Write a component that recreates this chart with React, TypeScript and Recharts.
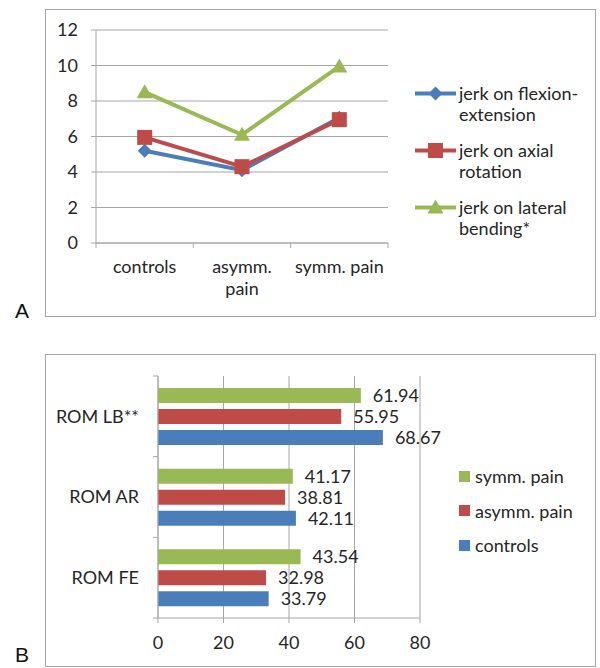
import React from 'react';
import {
  LineChart, Line, BarChart, Bar, XAxis, YAxis, CartesianGrid, Legend, LabelList,
} from 'recharts';

const FONT = 'Lato, "Open Sans", sans-serif';
const INK = '#262626';
const RULE = '#a6a6a6';
const FS = 18;

const BLUE = '#4a7ebb';
const RED = '#be4b48';
const GREEN = '#98b954';

// A: jerk per group
const groups = ['controls', 'asymm. pain', 'symm. pain'];
const groupTickLines = [['controls'], ['asymm.', 'pain'], ['symm. pain']];
const jerkFE = [5.2, 4.1, 7.05];
const jerkAR = [5.95, 4.3, 6.95];
const jerkLB = [8.5, 6.1, 9.95];
const jerkTicks = [0, 2, 4, 6, 8, 10, 12];
const jerkNames = [
  ['jerk on flexion-', 'extension'],
  ['jerk on axial', 'rotation'],
  ['jerk on lateral', 'bending*'],
];

// B: range of motion
const romLabels = ['ROM LB**', 'ROM AR', 'ROM FE'];
const romSymm = [61.94, 41.17, 43.54];
const romAsymm = [55.95, 38.81, 32.98];
const romControls = [68.67, 42.11, 33.79];
const romTicks = [0, 20, 40, 60, 80];
const romNames = ['symm. pain', 'asymm. pain', 'controls'];

const jerkData = groups.map((g, i) => ({ group: g, fe: jerkFE[i], ar: jerkAR[i], lb: jerkLB[i] }));
const romData = romLabels.map((l, i) => ({
  label: l, symm: romSymm[i], asymm: romAsymm[i], controls: romControls[i],
}));

type Shape = 'diamond' | 'square' | 'triangle';
const jerkSeries: { key: string; color: string; shape: Shape }[] = [
  { key: 'fe', color: BLUE, shape: 'diamond' },
  { key: 'ar', color: RED, shape: 'square' },
  { key: 'lb', color: GREEN, shape: 'triangle' },
];
const romSeries = [
  { key: 'symm', color: GREEN },
  { key: 'asymm', color: RED },
  { key: 'controls', color: BLUE },
];

// chart geometry
const A_W = 600, A_H = 330;
const A_PLOT = { left: 96, right: 388, top: 30, bottom: 243 };
const A_YW = 50, A_XH = 60, A_MR = 12;
const A_BAND = (A_PLOT.right - A_PLOT.left) / groups.length;

const B_W = 600, B_H = 328;
const B_PLOT = { left: 158, right: 420, top: 36, bottom: 278 };
const B_YW = 60, B_XH = 40, B_MR = 10;
const B_BAND = (B_PLOT.bottom - B_PLOT.top) / romLabels.length;

const TICK = 5;

function Marker({ shape, color, cx, cy }: { shape: Shape; color: string; cx: number; cy: number }) {
  if (shape === 'diamond') {
    return <polygon points={`${cx},${cy - 7} ${cx + 7},${cy} ${cx},${cy + 7} ${cx - 7},${cy}`} fill={color} />;
  }
  if (shape === 'square') {
    return <rect x={cx - 7.5} y={cy - 7.5} width={15} height={15} fill={color} />;
  }
  return <polygon points={`${cx},${cy - 8} ${cx + 8},${cy + 6} ${cx - 8},${cy + 6}`} fill={color} />;
}

function dotFor(shape: Shape, color: string) {
  return (p: any) => {
    if (p.cx == null || p.cy == null) return <g key={`${shape}-${p.index}`} />;
    return (
      <g key={`${shape}-${p.index}`}>
        <Marker shape={shape} color={color} cx={p.cx} cy={p.cy} />
      </g>
    );
  };
}

// category ticks sit between groups, labels at band centre
function GroupTick(props: any) {
  const { x, y, index } = props;
  const axisY = A_PLOT.bottom;
  const half = A_BAND / 2;
  const lines = groupTickLines[index] ?? [String(props.payload?.value)];
  return (
    <g>
      <line x1={x - half} x2={x - half} y1={axisY} y2={axisY + TICK} stroke={RULE} />
      {index === groups.length - 1 && (
        <line x1={x + half} x2={x + half} y1={axisY} y2={axisY + TICK} stroke={RULE} />
      )}
      <text x={x} y={y} textAnchor="middle" fill={INK} fontSize={FS} fontFamily={FONT}>
        {lines.map((l, i) => (
          <tspan key={i} x={x} dy={i === 0 ? '0.72em' : 22}>{l}</tspan>
        ))}
      </text>
    </g>
  );
}

function RomTick(props: any) {
  const { x, y, index, payload } = props;
  const axisX = B_PLOT.left;
  const half = B_BAND / 2;
  return (
    <g>
      <line x1={axisX - TICK} x2={axisX} y1={y - half} y2={y - half} stroke={RULE} />
      {index === romLabels.length - 1 && (
        <line x1={axisX - TICK} x2={axisX} y1={y + half} y2={y + half} stroke={RULE} />
      )}
      <text x={x} y={y} dy="0.36em" textAnchor="end" fill={INK} fontSize={FS} fontFamily={FONT}>
        {payload.value}
      </text>
    </g>
  );
}

function JerkLegend() {
  return (
    <div style={{ paddingLeft: 27, fontFamily: FONT, fontSize: FS, color: INK }}>
      {jerkSeries.map((s, i) => (
        <div key={s.key} style={{ display: 'flex', alignItems: 'flex-start', height: 42, marginBottom: i < 2 ? 15 : 0 }}>
          <svg width={44} height={21} style={{ flex: 'none' }}>
            <line x1={0} x2={41} y1={10.5} y2={10.5} stroke={s.color} strokeWidth={4} />
            <Marker shape={s.shape} color={s.color} cx={20.5} cy={10.5} />
          </svg>
          <div style={{ lineHeight: '21px', whiteSpace: 'nowrap' }}>
            {jerkNames[i].map((t) => <div key={t}>{t}</div>)}
          </div>
        </div>
      ))}
    </div>
  );
}

function RomLegend() {
  return (
    <div style={{ paddingLeft: 39, fontFamily: FONT, fontSize: FS, color: INK }}>
      {romSeries.map((s, i) => (
        <div key={s.key} style={{ display: 'flex', alignItems: 'center', height: 34.5 }}>
          <div style={{ width: 11, height: 11, background: s.color, marginRight: 5, flex: 'none' }} />
          <span style={{ whiteSpace: 'nowrap' }}>{romNames[i]}</span>
        </div>
      ))}
    </div>
  );
}

const panelLetter: React.CSSProperties = {
  position: 'absolute', fontFamily: '"Liberation Sans", Arial, sans-serif', fontSize: 21, color: '#111', lineHeight: 1,
};

export default function App() {
  return (
    <div style={{ position: 'absolute', left: 0, top: 0, width: 600, height: 668, background: '#fff', overflow: 'hidden' }}>
      <div style={{ position: 'absolute', left: 45, top: 9, width: 549, height: 306, border: `1px solid ${RULE}` }} />
      <div style={{ position: 'absolute', left: 45, top: 354, width: 549, height: 311, border: `1px solid ${RULE}` }} />
      <div style={{ ...panelLetter, left: 15, top: 300 }}>A</div>
      <div style={{ ...panelLetter, left: 15, top: 644 }}>B</div>

      <div style={{ position: 'absolute', left: 0, top: 0 }}>
        <LineChart
          width={A_W}
          height={A_H}
          data={jerkData}
          margin={{
            top: A_PLOT.top,
            left: A_PLOT.left - A_YW,
            right: A_MR,
            bottom: A_H - A_PLOT.bottom - A_XH,
          }}
        >
          <CartesianGrid vertical={false} stroke={RULE} />
          <XAxis
            dataKey="group"
            height={A_XH}
            interval={0}
            padding={{ left: A_BAND / 2, right: A_BAND / 2 }}
            tickLine={false}
            tickSize={TICK}
            tickMargin={12}
            axisLine={{ stroke: RULE }}
            tick={GroupTick}
          />
          <YAxis
            width={A_YW}
            domain={[0, 12]}
            ticks={jerkTicks}
            interval={0}
            tickSize={TICK}
            tickMargin={13}
            axisLine={{ stroke: RULE }}
            tickLine={{ stroke: RULE }}
            tick={{ fill: INK, fontSize: FS, fontFamily: FONT }}
          />
          <Legend
            layout="vertical"
            align="right"
            verticalAlign="top"
            wrapperStyle={{ top: 83, right: A_MR, width: 600 - A_MR - A_PLOT.right }}
            content={JerkLegend}
          />
          {jerkSeries.map((s) => (
            <Line
              key={s.key}
              dataKey={s.key}
              type="linear"
              stroke={s.color}
              strokeWidth={4}
              dot={dotFor(s.shape, s.color)}
              activeDot={false}
              isAnimationActive={false}
            />
          ))}
        </LineChart>
      </div>

      <div style={{ position: 'absolute', left: 0, top: 340 }}>
        <BarChart
          width={B_W}
          height={B_H}
          data={romData}
          layout="vertical"
          barSize={15}
          barGap={6}
          margin={{
            top: B_PLOT.top,
            left: B_PLOT.left - B_YW,
            right: B_MR,
            bottom: B_H - B_PLOT.bottom - B_XH,
          }}
        >
          <CartesianGrid horizontal={false} stroke={RULE} />
          <XAxis
            type="number"
            domain={[0, 80]}
            ticks={romTicks}
            interval={0}
            height={B_XH}
            tickSize={TICK}
            tickMargin={13}
            axisLine={{ stroke: RULE }}
            tickLine={{ stroke: RULE }}
            tick={{ fill: INK, fontSize: FS, fontFamily: FONT }}
          />
          <YAxis
            type="category"
            dataKey="label"
            width={B_YW}
            interval={0}
            tickLine={false}
            tickSize={TICK}
            tickMargin={14}
            axisLine={{ stroke: RULE }}
            tick={RomTick}
          />
          <Legend
            layout="vertical"
            align="right"
            verticalAlign="top"
            wrapperStyle={{ top: 119, right: B_MR, width: 600 - B_MR - B_PLOT.right }}
            content={RomLegend}
          />
          {romSeries.map((s) => (
            <Bar key={s.key} dataKey={s.key} fill={s.color} isAnimationActive={false}>
              <LabelList
                dataKey={s.key}
                position="right"
                offset={12}
                formatter={(v: any) => Number(v).toFixed(2)}
                style={{ fill: INK, fontSize: FS, fontFamily: FONT }}
              />
            </Bar>
          ))}
        </BarChart>
      </div>
    </div>
  );
}
